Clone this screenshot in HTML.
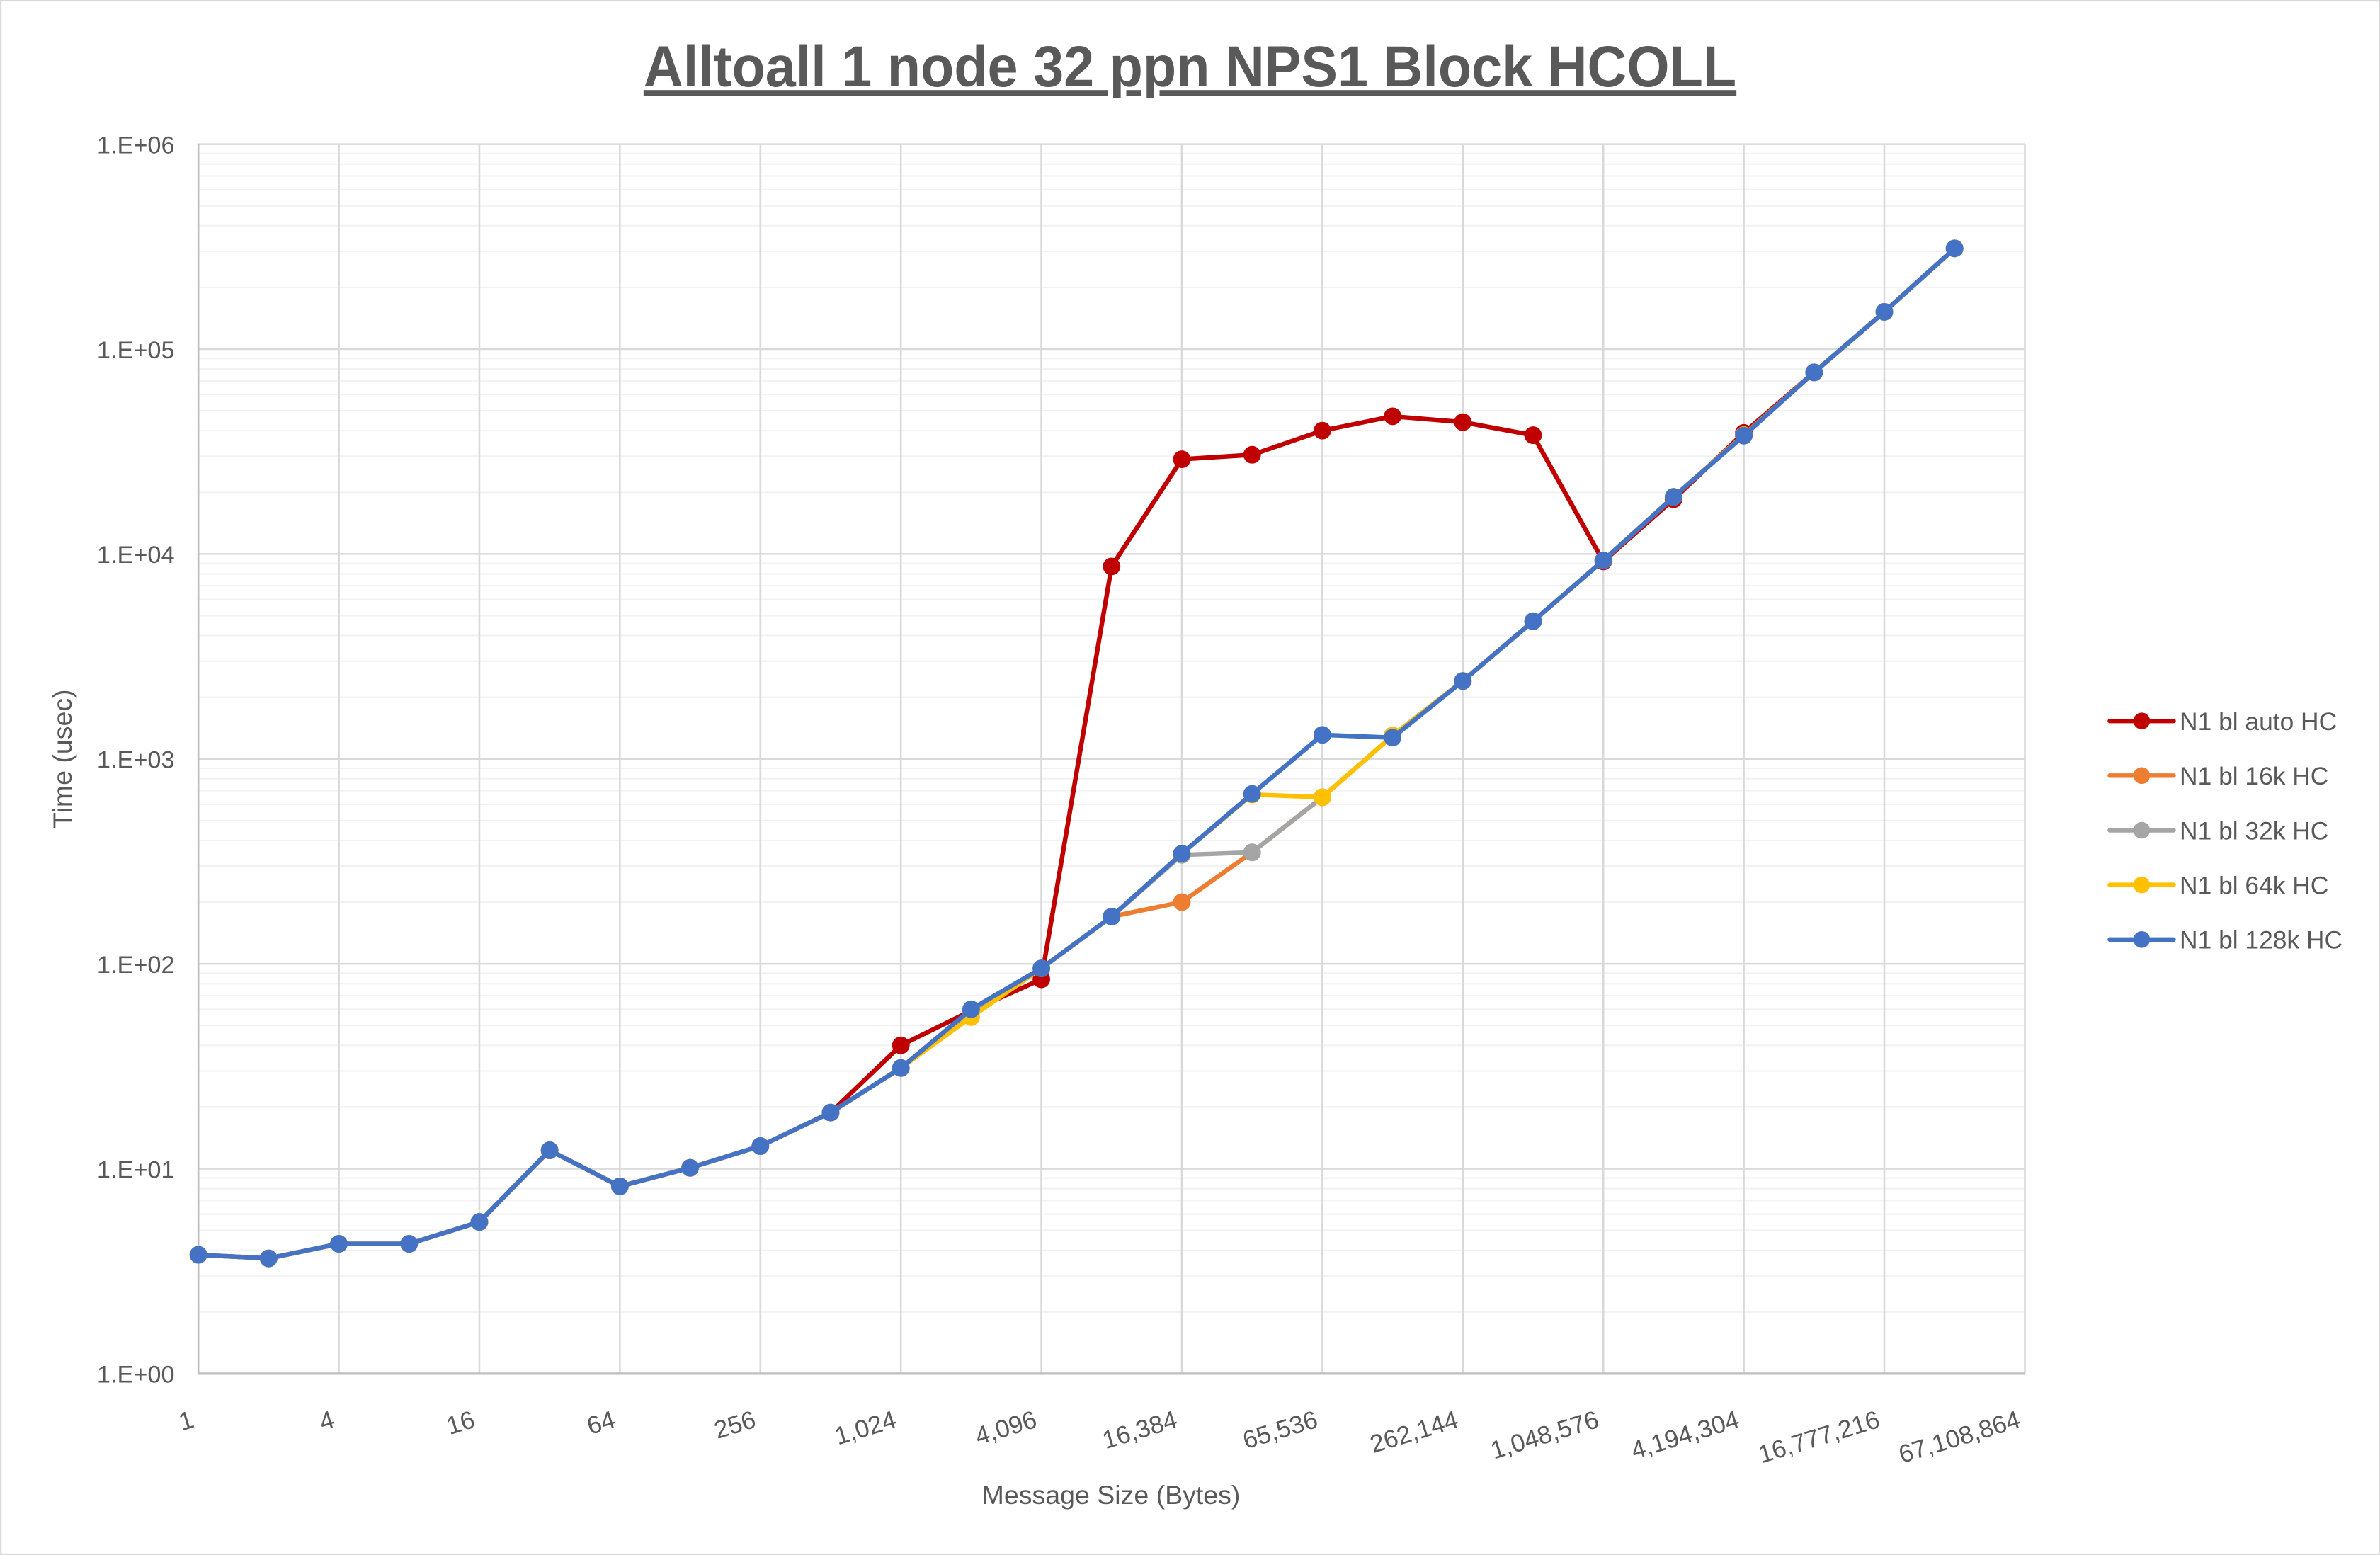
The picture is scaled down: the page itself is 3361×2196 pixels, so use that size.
<!DOCTYPE html>
<html><head><meta charset="utf-8">
<style>
html,body{margin:0;padding:0;background:#fff;}
svg{display:block;}
text{font-family:"Liberation Sans",sans-serif;fill:#595959;}
</style></head>
<body>
<svg id="chart" width="3361" height="2196" viewBox="0 0 1568 1024.5" xmlns="http://www.w3.org/2000/svg">
<rect x="0.5" y="0.5" width="1567" height="1023.5" fill="#fff" stroke="#d9d9d9" stroke-width="1"/>
<text x="784" y="57" text-anchor="middle" font-size="38" font-weight="bold" text-decoration="underline" textLength="720" lengthAdjust="spacingAndGlyphs">Alltoall 1 node 32 ppn NPS1 Block HCOLL</text>
<g id="grid"></g>
<g id="axes"></g>
<g id="series"></g>
<g id="legend"></g>
<text transform="translate(47,500) rotate(-90)" text-anchor="middle" font-size="17.5">Time (usec)</text>
<text x="732" y="991" text-anchor="middle" font-size="17.5">Message Size (Bytes)</text>
</svg>
<script>
const categories = [1,2,4,8,16,32,64,128,256,512,1024,2048,4096,8192,16384,32768,65536,131072,262144,524288,1048576,2097152,4194304,8388608,16777216,33554432];
const xTickLabels = ["1","4","16","64","256","1,024","4,096","16,384","65,536","262,144","1,048,576","4,194,304","16,777,216","67,108,864"];
const yTickLabels = ["1.E+00","1.E+01","1.E+02","1.E+03","1.E+04","1.E+05","1.E+06"];
const seriesNames = ["N1 bl auto HC","N1 bl 16k HC","N1 bl 32k HC","N1 bl 64k HC","N1 bl 128k HC"];
const autoHC = [3.8,3.65,4.3,4.3,5.5,12.3,8.2,10.1,12.9,18.8,40,59,84,8700,29000,30500,40000,47000,44000,38000,9200,18500,39000,77000,152000,310000];
const hc16k = [3.8,3.65,4.3,4.3,5.5,12.3,8.2,10.1,12.9,18.8,31,58,95,170,200,350,650,1300,2400,4700,9300,19000,38000,77000,152000,310000];
const hc32k = [3.8,3.65,4.3,4.3,5.5,12.3,8.2,10.1,12.9,18.8,31,59,95,170,340,350,650,1300,2400,4700,9300,19000,38000,77000,152000,310000];
const hc64k = [3.8,3.65,4.3,4.3,5.5,12.3,8.2,10.1,12.9,18.8,31,55,95,170,345,670,650,1300,2400,4700,9300,19000,38000,77000,152000,310000];
const hc128k = [3.8,3.65,4.3,4.3,5.5,12.3,8.2,10.1,12.9,18.8,31,60,95,170,345,675,1310,1270,2400,4700,9300,19000,37800,77000,152000,310000];
const seriesColors = ["#c00000","#ed7d31","#a5a5a5","#ffc000","#4472c4"];

const NS="http://www.w3.org/2000/svg";
const L=130.7, R=1334, T=95, B=905, nCat=27;
const step=(R-L)/(nCat-1);
function xPos(i){return L+i*step;}
function yPos(v){return B-(B-T)*Math.log10(v)/6;}
function mk(tag,attrs,parent){const e=document.createElementNS(NS,tag);for(const k in attrs)e.setAttribute(k,attrs[k]);parent.appendChild(e);return e;}
const grid=document.getElementById('grid'),axes=document.getElementById('axes'),ser=document.getElementById('series'),leg=document.getElementById('legend');
for(let d=0;d<6;d++){for(let m=2;m<=9;m++){const y=yPos(m*Math.pow(10,d));
const ln=mk('line',{x1:L,x2:R,y1:y,y2:y,stroke:'#f2f2f2','stroke-width':1},grid);

}}
yTickLabels.forEach((lab,d)=>{const y=yPos(Math.pow(10,d));
const ln=mk('line',{x1:L,x2:R,y1:y,y2:y,stroke:'#d9d9d9','stroke-width':1.2},grid);


const t=mk('text',{x:115,y:y+6,'text-anchor':'end','font-size':16},axes);t.textContent=lab;

});
xTickLabels.forEach((lab,k)=>{const x=xPos(k*2);
const ln=mk('line',{x1:x,x2:x,y1:T,y2:B,stroke:'#d9d9d9','stroke-width':1.2},grid);


const t=mk('text',{x:0,y:0,'text-anchor':'end','font-size':16.5,transform:'translate('+(x-2)+',940) rotate(-17)'},axes);t.textContent=lab;

});
const ax=mk('line',{x1:L,x2:R,y1:B,y2:B,stroke:'#bfbfbf','stroke-width':1.5},axes);


const ay=mk('line',{x1:L,x2:L,y1:T,y2:B,stroke:'#bfbfbf','stroke-width':1.2},axes);


const allSeries=[autoHC,hc16k,hc32k,hc64k,hc128k];
const keys=['auto','16k','32k','64k','128k'];
allSeries.forEach((vals,s)=>{const g=mk('g',{},ser);


const pts=vals.map((v,i)=>xPos(i).toFixed(2)+','+yPos(v).toFixed(2)).join(' ');
const pl=mk('polyline',{points:pts,fill:'none',stroke:seriesColors[s],'stroke-width':3,'stroke-linejoin':'round'},g);


vals.forEach((v,i)=>{const c=mk('circle',{cx:xPos(i),cy:yPos(v),r:5.8,fill:seriesColors[s]},g);

});});
seriesNames.forEach((nm,s)=>{const y=475+s*36;const g=mk('g',{},leg);


mk('line',{x1:1390,x2:1432,y1:y,y2:y,stroke:seriesColors[s],'stroke-width':3,'stroke-linecap':'round'},g);
mk('circle',{cx:1411,cy:y,r:5.5,fill:seriesColors[s]},g);
const t=mk('text',{x:1436,y:y+6,'font-size':16.5},g);t.textContent=nm;

});
</script>
</body></html>
